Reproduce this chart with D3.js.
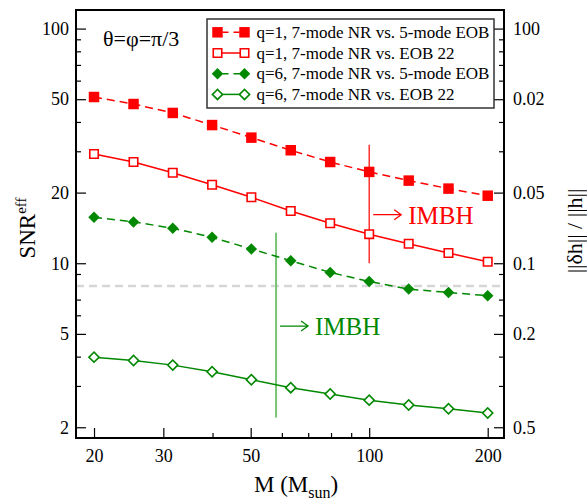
<!DOCTYPE html>
<html>
<head>
<meta charset="utf-8">
<script src="https://cdn.jsdelivr.net/npm/d3@7"></script>
<style>
  body { margin: 0; background: #fff; }
  svg text { font-family: "Liberation Serif", "DejaVu Serif", serif; fill: #000; }
</style>
</head>
<body>
<svg id="chart" width="587" height="502"></svg>
<script>
// data
var masses = [20, 25.2, 31.7, 39.9, 50.2, 63.2, 79.6, 100, 126, 159, 200];
var snrQ1Eob5 = [51.1, 47.7, 43.7, 38.8, 34.3, 30.3, 27.0, 24.5, 22.5, 20.8, 19.4];
var snrQ1Eob22 = [29.2, 27.0, 24.3, 21.6, 19.1, 16.7, 14.8, 13.3, 12.1, 11.05, 10.15];
var snrQ6Eob5 = [15.7, 15.0, 14.1, 12.9, 11.5, 10.25, 9.14, 8.36, 7.76, 7.51, 7.27];
var snrQ6Eob22 = [3.98, 3.85, 3.68, 3.45, 3.19, 2.95, 2.77, 2.61, 2.49, 2.40, 2.30];
var seriesNames = ['q=1, 7-mode NR vs. 5-mode EOB', 'q=1, 7-mode NR vs. EOB 22',
                   'q=6, 7-mode NR vs. 5-mode EOB', 'q=6, 7-mode NR vs. EOB 22'];

var xTicks = [20, 30, 50, 100, 200];
var xMinor = [40, 60, 70, 80, 90];
var yTicks = [2, 5, 10, 20, 50, 100];
var yMinor = [3, 4, 6, 7, 9, 30, 40, 60, 70, 80, 90];
var rightLabels = ['0.5', '0.2', '0.1', '0.05', '0.02', '100'];
var snrThreshold = 8;
// IMBH marker: mass, SNR extent of the line, SNR height of the arrow
var imbhQ1 = [100, 32, 10, 16.1];
var imbhQ6 = [58, 13.5, 2.2, 5.4];

var red = '#ff0000', green = '#008800';
var series = [
    { y: snrQ1Eob5, color: red, dash: '8,5', shape: 'square', fill: true },
    { y: snrQ1Eob22, color: red, dash: null, shape: 'square', fill: false },
    { y: snrQ6Eob5, color: green, dash: '8,5', shape: 'diamond', fill: true },
    { y: snrQ6Eob22, color: green, dash: null, shape: 'diamond', fill: false }
];

var margin = { left: 76, top: 10, right: 83, bottom: 64 };
var W = 587 - margin.left - margin.right, H = 502 - margin.top - margin.bottom;

var svg = d3.select('#chart');
var g = svg.append('g').attr('transform', `translate(${margin.left},${margin.top})`);

var x = d3.scaleLog().domain([18, 220]).range([0, W]);
var y = d3.scaleLog().domain([1.8, 120]).range([H, 0]);

function marker(sel, s) {
    var path = s.shape == 'square'
        ? d3.symbol(d3.symbolSquare, s.fill ? 110 : 72)()
        : d3.symbol(d3.symbolSquare, s.fill ? 66 : 52)();
    sel.append('path')
        .attr('d', path)
        .attr('fill', s.fill ? s.color : '#fff')
        .attr('stroke', s.color)
        .attr('stroke-width', s.fill ? 0 : 1.6)
        .attr('transform', function(d){
            var t = `translate(${d[0]},${d[1]})`;
            return s.shape == 'diamond' ? t + ' rotate(45)' : t;
        });
}

// threshold line
g.append('line')
    .attr('x1', 0).attr('x2', W)
    .attr('y1', y(snrThreshold)).attr('y2', y(snrThreshold))
    .attr('stroke', '#d6d6d6').attr('stroke-width', 2.5)
    .attr('stroke-dasharray', '8,5');

// axes
function styleAxis(ax) {
    ax.select('.domain').remove();
    ax.selectAll('text').style('font-size', '18px').attr('font-family', null);
    ax.selectAll('line').attr('stroke', '#000').attr('stroke-width', 1.2);
}
g.append('g').attr('transform', `translate(0,${H})`)
    .call(d3.axisBottom(x).tickValues(xTicks).tickFormat(d3.format('d')).tickSize(-10).tickPadding(11))
    .call(styleAxis);
g.append('g').attr('transform', `translate(0,${H})`)
    .call(d3.axisBottom(x).tickValues(xMinor).tickFormat('').tickSize(-5))
    .call(styleAxis);
g.append('g')
    .call(d3.axisLeft(y).tickValues(yTicks).tickFormat(d3.format('d')).tickSize(-10).tickPadding(7))
    .call(styleAxis);
g.append('g')
    .call(d3.axisLeft(y).tickValues(yMinor).tickFormat('').tickSize(-5))
    .call(styleAxis);
g.append('g').attr('transform', `translate(${W},0)`)
    .call(d3.axisRight(y).tickValues(yTicks).tickFormat((d, i) => rightLabels[i]).tickSize(-10).tickPadding(9))
    .call(styleAxis);
g.append('g').attr('transform', `translate(${W},0)`)
    .call(d3.axisRight(y).tickValues(yMinor).tickFormat('').tickSize(-5))
    .call(styleAxis);

// IMBH annotations
function imbh(a, color, lineColor) {
    var xl = x(a[0]), ya = y(a[3]);
    g.append('line')
        .attr('x1', xl).attr('x2', xl)
        .attr('y1', y(a[1])).attr('y2', y(a[2]))
        .attr('stroke', lineColor).attr('stroke-width', color == red ? 1.2 : 2);
    // thin arrow
    g.append('path')
        .attr('d', `M${xl + 4},${ya} H${xl + 32} M${xl + 25},${ya - 5} L${xl + 32},${ya} L${xl + 25},${ya + 5}`)
        .attr('fill', 'none').attr('stroke', color).attr('stroke-width', 1.3);
    g.append('text')
        .attr('x', xl + 39).attr('y', ya + 9)
        .style('fill', color)
        .style('font-size', '25px')
        .text('IMBH');
}
imbh(imbhQ1, red, red);
imbh(imbhQ6, green, '#74c474');

// series
var line = d3.line().x(d => x(d[0])).y(d => y(d[1]));
series.forEach(function(s){
    var pts = masses.map((m, i) => [m, s.y[i]]);
    g.append('path').datum(pts)
        .attr('d', line)
        .attr('fill', 'none')
        .attr('stroke', s.color).attr('stroke-width', 1.5)
        .attr('stroke-dasharray', s.dash);
    var mk = g.append('g').selectAll('g').data(pts).join('g')
        .datum(d => [x(d[0]), y(d[1])]);
    mk.each(function(d){ marker(d3.select(this), s); });
});

// frame
g.append('rect').attr('width', W).attr('height', H)
    .attr('fill', 'none').attr('stroke', '#000').attr('stroke-width', 2);

// title
g.append('text').attr('x', 27).attr('y', 36)
    .style('font-size', '22px').text('\u03b8=\u03c6=\u03c0/3');

// legend
var lg = g.append('g').attr('transform', 'translate(131,9)');
lg.append('rect').attr('width', 287).attr('height', 89)
    .attr('fill', '#fff').attr('stroke', '#333').attr('stroke-width', 1.5);
series.forEach(function(s, i){
    var row = lg.append('g').attr('transform', `translate(0,${13.3 + i * 20.7})`);
    row.append('line').attr('x1', 10.5).attr('x2', 37.5)
        .attr('stroke', s.color).attr('stroke-width', 1.5)
        .attr('stroke-dasharray', s.dash ? '6,5' : null)
        .attr('stroke-dashoffset', s.dash ? -5 : null);
    var mk = row.selectAll('g').data([[10.5, 0], [37.5, 0]]).join('g');
    mk.each(function(){ marker(d3.select(this), s); });
    row.append('text').attr('x', 49.5).attr('y', 0)
        .attr('dominant-baseline', 'central')
        .style('font-size', '17px').text(seriesNames[i]);
});

// axis titles
var xt = svg.append('text').attr('x', 254).attr('y', 492).style('font-size', '23px');
xt.append('tspan').text('M (M');
xt.append('tspan').attr('dy', 6).style('font-size', '16px').text('sun');
xt.append('tspan').attr('dy', -6).text(')');

var yt = svg.append('text')
    .attr('transform', 'translate(35,228) rotate(-90)')
    .attr('text-anchor', 'middle').style('font-size', '23px');
yt.append('tspan').text('SNR');
yt.append('tspan').attr('dy', -9).style('font-size', '15px').text('eff');

svg.append('text')
    .attr('transform', 'translate(582,231) rotate(-90)')
    .attr('text-anchor', 'middle').style('font-size', '22px')
    .text('||\u03b4h|| / ||h||');
</script>
</body>
</html>
